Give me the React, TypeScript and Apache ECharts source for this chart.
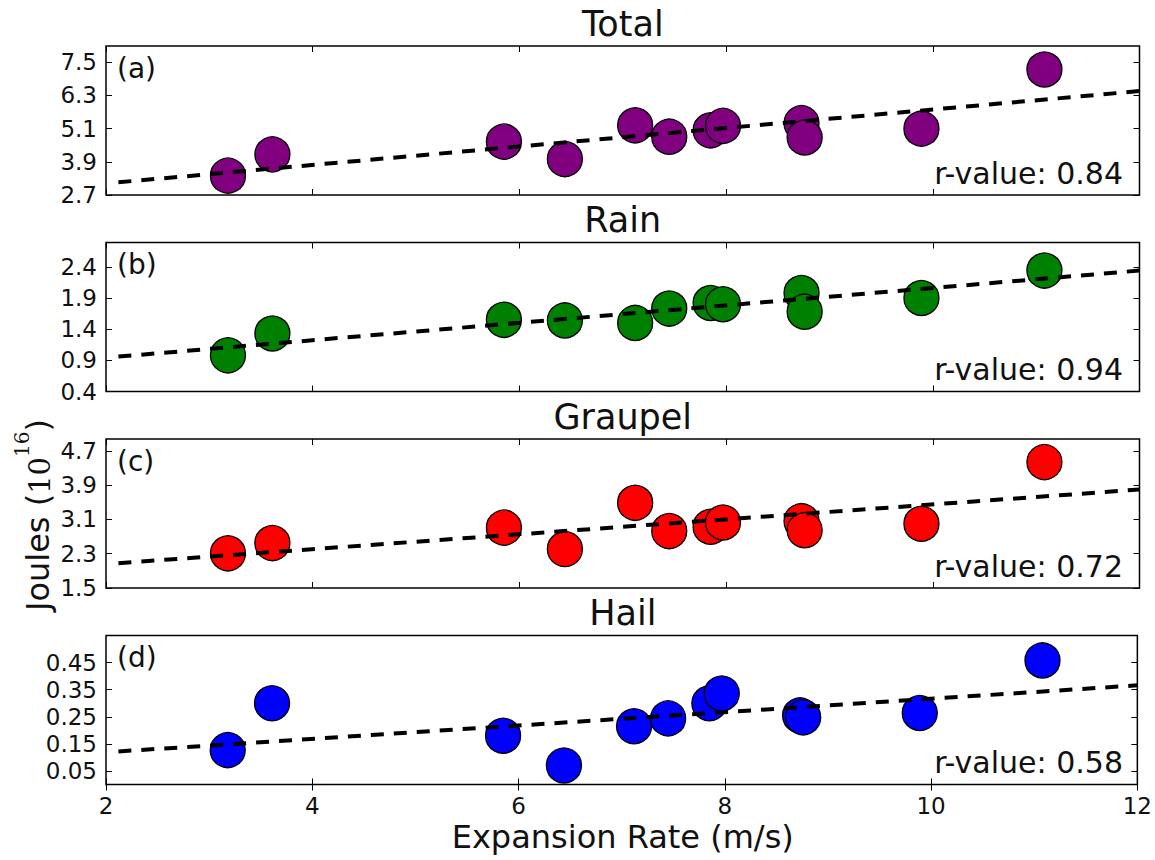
import React, { useEffect, useRef } from "react";
import * as echarts from "echarts";

// ---- data ----
const expansionRate = [3.18, 3.61, 5.85, 6.44, 7.12, 7.45, 7.85, 7.97, 8.73, 8.76, 9.89, 11.08];
const totalValues = [3.40, 4.17, 4.63, 4.00, 5.22, 4.81, 5.04, 5.20, 5.30, 4.78, 5.10, 7.24];
const rainValues = [0.98, 1.33, 1.55, 1.54, 1.50, 1.73, 1.82, 1.80, 1.98, 1.68, 1.90, 2.34];
const graupelValues = [2.31, 2.55, 2.91, 2.41, 3.49, 2.83, 2.93, 3.03, 3.06, 2.85, 3.00, 4.44];
const hailValues = [0.127, 0.30, 0.18, 0.07, 0.215, 0.244, 0.30, 0.336, 0.255, 0.248, 0.264, 0.458];

const fitX = [2.12, 12];
const totalFit = [3.16, 6.46];
const rainFit = [0.96, 2.34];
const graupelFit = [2.08, 3.8];
const hailFit = [0.122, 0.366];

const panelTitles = ["Total", "Rain", "Graupel", "Hail"];
const panelLetters = ["(a)", "(b)", "(c)", "(d)"];
const rValues = ["0.84", "0.94", "0.72", "0.58"];
const panelColors = ["#800080", "#008000", "#ff0000", "#0000ff"];

const totalTicks = [2.7, 3.9, 5.1, 6.3, 7.5];
const rainTicks = [0.4, 0.9, 1.4, 1.9, 2.4];
const graupelTicks = [1.5, 2.3, 3.1, 3.9, 4.7];
const hailTicks = [0.05, 0.15, 0.25, 0.35, 0.45];

const yMins = [2.7, 0.4, 1.5, 0];
const yMaxs = [8.09, 2.79, 4.98, 0.55];

const xLabel = "Expansion Rate (m/s)";

export default function App() {
  const ref = useRef<HTMLDivElement>(null);

  useEffect(() => {
    document.body.style.margin = "0";
    if (!ref.current) return;
    const chart = echarts.init(ref.current, undefined, { renderer: "svg" });

    const values = [totalValues, rainValues, graupelValues, hailValues];
    const fits = [totalFit, rainFit, graupelFit, hailFit];
    const yTickSets = [totalTicks, rainTicks, graupelTicks, hailTicks];

    const left = 106;
    const width = 1033.5;
    const height = 149;
    const tops = [46, 242.5, 439, 635.5];
    const font = "DejaVu Sans";

    const grids: any[] = [];
    const xAxes: any[] = [];
    const yAxes: any[] = [];
    const series: any[] = [];
    const graphics: any[] = [];

    for (let i = 0; i < 4; i++) {
      grids.push({
        left,
        top: tops[i],
        width,
        height,
        show: true,
        borderColor: "#000",
        borderWidth: 1.5,
        backgroundColor: "#fff",
        containLabel: false,
      });
      const isLast = i === 3;
      const xBase = {
        type: "value",
        gridIndex: i,
        min: 2,
        max: 12,
        interval: 2,
        splitLine: { show: false },
        axisLine: { show: false },
        axisTick: { show: true, inside: true, length: 6, lineStyle: { color: "#000", width: 1 } },
      };
      xAxes.push({
        ...xBase,
        position: "bottom",
        axisLabel: {
          show: isLast,
          color: "#111",
          fontFamily: font,
          fontSize: 23,
          margin: 10,
        },
      });
      xAxes.push({ ...xBase, position: "top", axisLabel: { show: false } });

      const yBase = {
        type: "value",
        gridIndex: i,
        min: yMins[i],
        max: yMaxs[i],
        splitLine: { show: false },
        axisLine: { show: false },
        axisTick: {
          show: true,
          inside: true,
          length: 6,
          lineStyle: { color: "#000", width: 1 },
          customValues: yTickSets[i],
        },
      };
      yAxes.push({
        ...yBase,
        position: "left",
        axisLabel: {
          show: true,
          color: "#111",
          fontFamily: font,
          fontSize: 23,
          margin: 9,
          customValues: yTickSets[i],
        },
      });
      yAxes.push({ ...yBase, position: "right", axisLabel: { show: false } });

      series.push({
        type: "scatter",
        xAxisIndex: 2 * i,
        yAxisIndex: 2 * i,
        data: expansionRate.map((x, k) => [x, values[i][k]]),
        symbol: "circle",
        symbolSize: 35,
        itemStyle: { color: panelColors[i], borderColor: "#000", borderWidth: 1.3, opacity: 1 },
        z: 2,
        silent: true,
      });
      series.push({
        type: "line",
        xAxisIndex: 2 * i,
        yAxisIndex: 2 * i,
        data: fitX.map((x, k) => [x, fits[i][k]]),
        symbol: "none",
        showSymbol: false,
        lineStyle: { color: "#000", width: 4, type: [13, 10] },
        z: 3,
        silent: true,
      });

      graphics.push({
        type: "text",
        x: left + width / 2,
        y: tops[i] - 22.5,
        style: {
          text: panelTitles[i],
          fill: "#111",
          font: `35px "${font}"`,
          align: "center",
          verticalAlign: "middle",
        },
      });
      graphics.push({
        type: "text",
        x: 117,
        y: tops[i] + 22,
        z: 10,
        style: {
          text: panelLetters[i],
          fill: "#111",
          font: `28px "${font}"`,
          align: "left",
          verticalAlign: "middle",
        },
      });
      graphics.push({
        type: "text",
        x: 1123,
        y: tops[i] + height - 22,
        z: 10,
        style: {
          text: "r-value: " + rValues[i],
          fill: "#111",
          font: `30px "${font}"`,
          align: "right",
          verticalAlign: "middle",
        },
      });
    }

    graphics.push({
      type: "text",
      x: left + width / 2,
      y: 837,
      style: {
        text: xLabel,
        fill: "#111",
        font: `32px "${font}"`,
        align: "center",
        verticalAlign: "middle",
      },
    });
    graphics.push({
      type: "text",
      x: 33,
      y: 515,
      rotation: Math.PI / 2,
      style: {
        text: "{a|Joules (}{b|10}{c|16}{a|)}",
        fill: "#111",
        align: "center",
        verticalAlign: "middle",
        rich: {
          a: { fontFamily: font, fontSize: 32, lineHeight: 42, verticalAlign: "bottom", fill: "#111" },
          b: { fontFamily: "DejaVu Serif", fontSize: 29, lineHeight: 42, verticalAlign: "bottom", fill: "#111" },
          c: { fontFamily: "DejaVu Serif", fontSize: 20, lineHeight: 30, verticalAlign: "top", fill: "#111" },
        },
      },
    });

    chart.setOption({
      animation: false,
      backgroundColor: "#fff",
      grid: grids,
      xAxis: xAxes,
      yAxis: yAxes,
      series,
      graphic: graphics,
    });

    return () => chart.dispose();
  }, []);

  return <div ref={ref} style={{ width: 1155, height: 860 }} />;
}
